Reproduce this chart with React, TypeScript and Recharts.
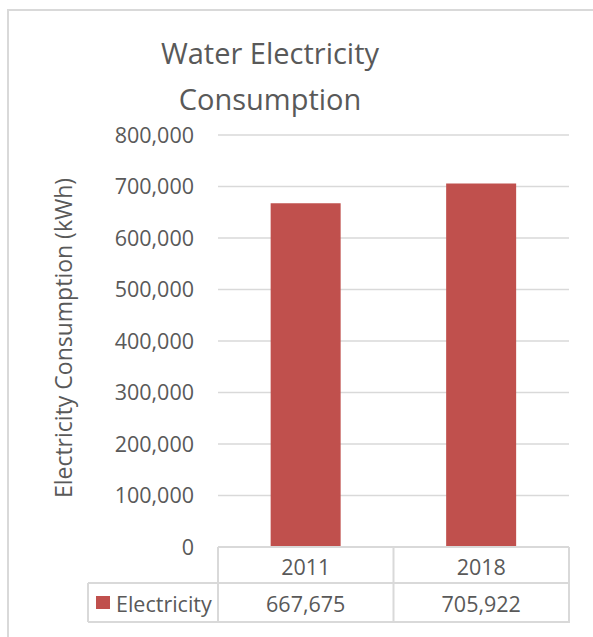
import { Bar, BarChart, CartesianGrid, Customized, XAxis, YAxis } from 'recharts';

const years = ['2011', '2018'];
const electricity = [667675, 705922];
const yTicks = [0, 100000, 200000, 300000, 400000, 500000, 600000, 700000, 800000];
const seriesName = 'Electricity';
const titleLines = ['Water Electricity', 'Consumption'];
const yLabel = 'Electricity Consumption (kWh)';

const data = years.map((year, i) => ({ year, electricity: electricity[i] }));

const W = 593;
const H = 637;
const margin = { top: 135, right: 24, bottom: 15, left: 40 };
const yAxisW = 178;
const xAxisH = 75;
const plotLeft = margin.left + yAxisW; // 218
const plotRight = W - margin.right; // 569
const plotBottom = H - margin.bottom - xAxisH; // 547
const rowSplit = 583;
const tableBottom = H - margin.bottom; // 622
const tableLeft = 88;
const band = (plotRight - plotLeft) / years.length;

const TEXT = '#595959';
const LINE = '#D9D9D9';
const BAR = '#C0504D';
const FONT = '"Open Sans", sans-serif';
const FS = 21.5;

const fmt = (v: number) => v.toLocaleString('en-US');

function TableTick(props: any) {
  const { x, payload, index } = props;
  const left = x - band / 2;
  const right = x + band / 2;
  return (
    <g>
      {index === 0 && (
        <line x1={left} y1={plotBottom} x2={left} y2={tableBottom} stroke={LINE} strokeWidth={2} />
      )}
      <line x1={right} y1={plotBottom} x2={right} y2={tableBottom} stroke={LINE} strokeWidth={2} />
      <text x={x} y={566} textAnchor="middle" dominantBaseline="central" fill={TEXT} fontSize={FS} fontFamily={FONT}>
        {payload.value}
      </text>
      <text x={x} y={603} textAnchor="middle" dominantBaseline="central" fill={TEXT} fontSize={FS} fontFamily={FONT}>
        {fmt(data[index].electricity)}
      </text>
    </g>
  );
}

function Extras() {
  return (
    <g>
      {titleLines.map((t, i) => (
        <text key={t} x={270} y={64 + i * 46} textAnchor="middle" fill={TEXT} fontSize={29} fontFamily={FONT}>
          {t}
        </text>
      ))}
      <text
        x={63}
        y={338}
        transform="rotate(-90 63 338)"
        textAnchor="middle"
        dominantBaseline="central"
        fill={TEXT}
        fontSize={23}
        fontFamily={FONT}
      >
        {yLabel}
      </text>
      <line x1={tableLeft} y1={rowSplit} x2={plotRight} y2={rowSplit} stroke={LINE} strokeWidth={2} />
      <line x1={tableLeft} y1={tableBottom} x2={plotRight + 1} y2={tableBottom} stroke={LINE} strokeWidth={2} />
      <line x1={tableLeft} y1={rowSplit} x2={tableLeft} y2={tableBottom} stroke={LINE} strokeWidth={2} />
      <rect x={96} y={596} width={14} height={13} fill={BAR} />
      <text x={116} y={603} dominantBaseline="central" fill={TEXT} fontSize={FS} fontFamily={FONT}>
        {seriesName}
      </text>
    </g>
  );
}

export default function App() {
  return (
    <div style={{ position: 'absolute', left: 0, top: 0, width: W, height: H, background: '#fff' }}>
      <div
        style={{
          position: 'absolute',
          left: 7,
          top: 9,
          width: W,
          height: H,
          borderTop: `2px solid ${LINE}`,
          borderLeft: `2px solid ${LINE}`,
        }}
      />
      <div style={{ position: 'absolute', left: 0, top: 0 }}>
        <BarChart width={W} height={H} data={data} margin={margin} barCategoryGap="30%">
          <CartesianGrid vertical={false} stroke={LINE} strokeWidth={1.5} />
          <XAxis
            dataKey="year"
            height={xAxisH}
            axisLine={{ stroke: LINE, strokeWidth: 2 }}
            tickLine={false}
            interval={0}
            tick={<TableTick />}
          />
          <YAxis
            width={yAxisW}
            domain={[0, 800000]}
            ticks={yTicks}
            tickFormatter={fmt}
            axisLine={false}
            tickLine={false}
            tickSize={0}
            tickMargin={24}
            tick={{ fill: TEXT, fontSize: FS, fontFamily: FONT }}
          />
          <Bar dataKey="electricity" name={seriesName} fill={BAR} isAnimationActive={false} />
          <Customized component={<Extras />} />
        </BarChart>
      </div>
    </div>
  );
}
